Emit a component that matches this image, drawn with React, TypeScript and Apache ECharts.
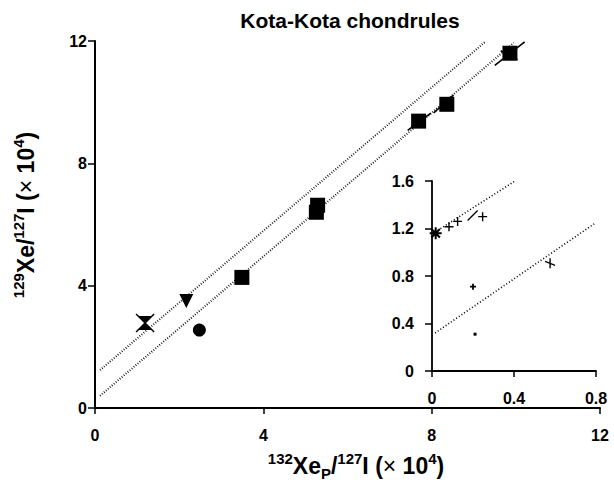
import React, { useEffect, useRef } from "react";
import * as echarts from "echarts";

// ---- Data ----
const mainXTicks = [0, 4, 8, 12];
const mainYTicks = [0, 4, 8, 12];
const insetXTicks = [0, 0.4, 0.8];
const insetYTicks = [0, 0.4, 0.8, 1.2, 1.6];

const squarePoints: number[][] = [
  [3.49, 4.27],
  [5.26, 6.4],
  [5.29, 6.63],
  [7.69, 9.38],
  [8.36, 9.93],
  [9.86, 11.6],
];
const circlePoints: number[][] = [[2.48, 2.55]];
const trianglePoints: number[][] = [[2.17, 3.5]];
const hourglassPoints: number[][] = [[1.19, 2.78]];

// error segments through squares (endpoints)
const errorSegments: number[][][] = [
  [[7.43, 9.08], [7.98, 9.64]],
  [[8.05, 9.65], [8.52, 10.23]],
  [[9.5, 11.2], [10.21, 11.97]],
  [[9.64, 11.68], [10.04, 11.39]],
];

// dotted correlation lines in main panel
const mainUpperLine: number[][] = [[0.12, 1.24], [9.26, 11.96]];
const mainLowerLine: number[][] = [[0.12, 0.4], [9.95, 11.94]];

// inset
const insetPlus: number[][] = [
  [0.083, 1.215],
  [0.125, 1.26],
  [0.247, 1.3],
];
const insetStar: number[][] = [[0.018, 1.16]];
const insetSlash: number[][] = [[0.198, 1.31]];
const insetSmallPlus: number[][] = [[0.2, 0.71]];
const insetCross: number[][] = [[0.576, 0.907]];
const insetBars: number[][] = [
  [0.018, 1.03],
  [0.012, 0.82],
];
const insetDot: number[][] = [[0.21, 0.31]];
const insetUpperLine: number[][] = [[0.015, 1.17], [0.405, 1.6]];
const insetLowerLine: number[][] = [[0.015, 0.32], [0.8, 1.25]];

const FONT = "'Liberation Sans', Arial, Helvetica, sans-serif";

export default function App() {
  const ref = useRef<HTMLDivElement>(null);

  useEffect(() => {
    document.body.style.margin = "0";
    if (!ref.current) return;
    const chart = echarts.init(ref.current, undefined, { renderer: "svg" });

    const axisLabel = (size: number, margin: number) => ({
      color: "#000",
      fontFamily: FONT,
      fontWeight: "bold" as const,
      fontSize: size,
      margin,
    });

    const dotted = { color: "#000", width: 2, type: [0.8, 1.8] as any, cap: "butt" as const };

    const lineSeries = (data: number[][], idx: number, style: any) => ({
      type: "line",
      data,
      xAxisIndex: idx,
      yAxisIndex: idx,
      symbol: "none",
      lineStyle: style,
      silent: true,
      z: 1,
    });

    const scatter = (data: number[][], idx: number, symbol: string, size: number, extra: any = {}) => ({
      type: "scatter",
      data,
      xAxisIndex: idx,
      yAxisIndex: idx,
      symbol,
      symbolSize: size,
      itemStyle: { color: "#000", opacity: 1, ...(extra.itemStyle || {}) },
      symbolRotate: extra.symbolRotate || 0,
      z: 3,
    });

    const strokeOnly = { color: "none", borderColor: "#000", borderWidth: 1.4 };

    const richBase = {
      b: { fontFamily: FONT, fontWeight: "bold", fontSize: 23, fill: "#000", lineHeight: 30 },
      r: { fontFamily: FONT, fontWeight: "normal", fontSize: 23, fill: "#000", lineHeight: 30 },
      sup: { fontFamily: FONT, fontWeight: "bold", fontSize: 15, fill: "#000", lineHeight: 15, verticalAlign: "top" },
      sub: { fontFamily: FONT, fontWeight: "bold", fontSize: 15, fill: "#000", lineHeight: 15, verticalAlign: "bottom" },
    };

    const option: any = {
      animation: false,
      backgroundColor: "#fff",
      grid: [
        { left: 95, top: 41, width: 505, height: 367 },
        { left: 432, top: 181, width: 164, height: 190 },
      ],
      xAxis: [
        {
          type: "value",
          gridIndex: 0,
          min: mainXTicks[0],
          max: mainXTicks[mainXTicks.length - 1],
          interval: 4,
          splitLine: { show: false },
          axisLine: { lineStyle: { color: "#000", width: 2 } },
          axisTick: { inside: false, length: 6, lineStyle: { color: "#000", width: 1.5 } },
          axisLabel: axisLabel(16, 19),
        },
        {
          type: "value",
          gridIndex: 1,
          min: insetXTicks[0],
          max: insetXTicks[insetXTicks.length - 1],
          interval: 0.4,
          splitLine: { show: false },
          axisLine: { lineStyle: { color: "#000", width: 1.8 } },
          axisTick: { length: 6, lineStyle: { color: "#000", width: 1.5 } },
          axisLabel: axisLabel(16, 19),
        },
      ],
      yAxis: [
        {
          type: "value",
          gridIndex: 0,
          min: mainYTicks[0],
          max: mainYTicks[mainYTicks.length - 1],
          interval: 4,
          splitLine: { show: false },
          axisLine: { show: true, lineStyle: { color: "#000", width: 2 } },
          axisTick: { show: true, length: 7, lineStyle: { color: "#000", width: 1.5 } },
          axisLabel: axisLabel(16, 8),
        },
        {
          type: "value",
          gridIndex: 1,
          min: insetYTicks[0],
          max: insetYTicks[insetYTicks.length - 1],
          interval: 0.4,
          splitLine: { show: false },
          axisLine: { show: true, lineStyle: { color: "#000", width: 1.8 } },
          axisTick: { show: true, length: 7, lineStyle: { color: "#000", width: 1.5 } },
          axisLabel: { ...axisLabel(16, 18), formatter: (v: number) => (v === 0 ? "0" : v.toFixed(1)) },
        },
      ],
      series: [
        lineSeries(mainUpperLine, 0, dotted),
        lineSeries(mainLowerLine, 0, dotted),
        ...errorSegments.map((s) => lineSeries(s, 0, { color: "#000", width: 1.6, type: "solid" })),
        scatter(squarePoints, 0, "rect", 15),
        scatter(circlePoints, 0, "circle", 13),
        scatter(trianglePoints, 0, "triangle", 14, { symbolRotate: 180 }),
        scatter(
          hourglassPoints,
          0,
          "path://M0,0L20,20M20,0L0,20M4,3L16,3L10,10ZM10,10L4,17L16,17Z",
          18,
          { itemStyle: { borderColor: "#000", borderWidth: 1.5 } }
        ),
        lineSeries(insetUpperLine, 1, { ...dotted, width: 1.6, type: [1, 2.2] }),
        lineSeries(insetLowerLine, 1, { ...dotted, width: 1.6, type: [1, 2.2] }),
        scatter(insetPlus, 1, "path://M0,5L10,5M5,0L5,10", 9, { itemStyle: strokeOnly }),
        scatter(insetStar, 1, "path://M0,5L10,5M5,0L5,10M1.5,1.5L8.5,8.5M8.5,1.5L1.5,8.5", 12, {
          itemStyle: { ...strokeOnly, borderWidth: 2 },
        }),
        scatter(insetSlash, 1, "path://M3,10L7,0", 10, { itemStyle: strokeOnly }),
        scatter(insetSmallPlus, 1, "path://M0,5L10,5M5,0L5,10", 6, { itemStyle: { ...strokeOnly, borderWidth: 1.8 } }),
        scatter(insetCross, 1, "path://M0,3L10,7M5,0L5,10", 10, { itemStyle: strokeOnly }),
        scatter(insetBars, 1, "path://M5,0L5,10", 8, { itemStyle: { ...strokeOnly, borderWidth: 1.6 } }),
        scatter(insetDot, 1, "rect", 3),
      ],
      graphic: [
        {
          type: "text",
          x: 350,
          y: 20,
          style: {
            text: "Kota-Kota chondrules",
            fontFamily: FONT,
            fontWeight: "bold",
            fontSize: 21,
            fill: "#000",
            align: "center",
            verticalAlign: "middle",
          },
        },
        {
          type: "text",
          x: 356,
          y: 466,
          style: {
            text: "{sup|132}{b|Xe}{sub|P}{b|/}{sup|127}{b|I (}{r|×}{b| 10}{sup|4}{b|)}",
            align: "center",
            verticalAlign: "middle",
            rich: richBase,
          },
        },
        {
          type: "text",
          x: 26,
          y: 215,
          rotation: Math.PI / 2,
          style: {
            text: "{sup|129}{b|Xe/}{sup|127}{b|I (}{r|×}{b| 10}{sup|4}{b|)}",
            align: "center",
            verticalAlign: "middle",
            rich: richBase,
          },
        },
      ],
    };

    chart.setOption(option);
    return () => chart.dispose();
  }, []);

  return (
    <div
      ref={ref}
      style={{ position: "fixed", left: 0, top: 0, width: 614, height: 485, background: "#fff" }}
    />
  );
}
